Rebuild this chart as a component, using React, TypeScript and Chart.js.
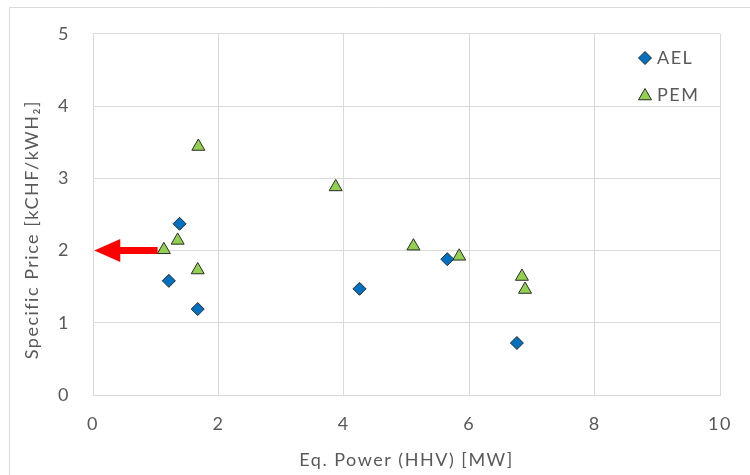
import React, { useEffect, useRef } from 'react';
import { Chart, registerables } from 'chart.js';

Chart.register(...registerables);

// ---- data ----
const seriesNames = ['AEL', 'PEM'];
const aelX = [1.38, 1.21, 1.67, 4.25, 5.65, 6.76];
const aelY = [2.37, 1.58, 1.19, 1.47, 1.88, 0.72];
const pemX = [1.68, 1.13, 1.35, 1.67, 3.87, 5.11, 5.84, 6.84, 6.89];
const pemY = [3.44, 2.01, 2.14, 1.73, 2.88, 2.06, 1.92, 1.64, 1.46];
const xTicks = [0, 2, 4, 6, 8, 10];
const yTicks = [0, 1, 2, 3, 4, 5];
const arrowFrom = [1.03, 2];
const arrowTo = [0.02, 2];
const xTitle = 'Eq. Power (HHV) [MW]';
const yTitle = 'Specific Price [kCHF/kWH\u2082]';

const FONT = 'Lato';
const TEXT = '#595959';
const GRID = '#d9d9d9';
const AEL_FILL = '#0070C0';
const PEM_FILL = '#92D050';
const MARK_BORDER = '#2b2b2b';
const SPACING = '1.5px';

const decorPlugin = {
  id: 'decor',
  beforeUpdate(chart: any) {
    chart.ctx.letterSpacing = SPACING;
  },
  beforeDraw(chart: any) {
    const ctx = chart.ctx;
    ctx.letterSpacing = SPACING;
    ctx.save();
    ctx.fillStyle = '#ffffff';
    ctx.fillRect(0, 0, chart.width, chart.height);
    ctx.strokeStyle = GRID;
    ctx.lineWidth = 1;
    ctx.beginPath();
    ctx.moveTo(9.5, chart.height);
    ctx.lineTo(9.5, 7.5);
    ctx.lineTo(chart.width, 7.5);
    ctx.stroke();
    ctx.restore();
  },
  beforeDatasetsDraw(chart: any) {
    const { ctx, scales } = chart;
    const x0 = scales.x.getPixelForValue(arrowFrom[0]);
    const x1 = scales.x.getPixelForValue(arrowTo[0]);
    const y = scales.y.getPixelForValue(arrowFrom[1]);
    const headLen = 26;
    const headHalf = 11.5;
    const shaftHalf = 3.5;
    ctx.save();
    ctx.fillStyle = '#ff0000';
    ctx.beginPath();
    ctx.moveTo(x0, y - shaftHalf);
    ctx.lineTo(x1 + headLen, y - shaftHalf);
    ctx.lineTo(x1 + headLen, y - headHalf);
    ctx.lineTo(x1, y);
    ctx.lineTo(x1 + headLen, y + headHalf);
    ctx.lineTo(x1 + headLen, y + shaftHalf);
    ctx.lineTo(x0, y + shaftHalf);
    ctx.closePath();
    ctx.fill();
    ctx.restore();
  },
  afterDraw(chart: any) {
    const ctx = chart.ctx;
    const mx = 645;
    const tx = 657;
    const rows = [58, 95];
    ctx.save();
    ctx.font = `18px ${FONT}`;
    ctx.textBaseline = 'middle';
    ctx.textAlign = 'left';
    // AEL diamond
    const r = 6.5;
    ctx.beginPath();
    ctx.moveTo(mx, rows[0] - r);
    ctx.lineTo(mx + r, rows[0]);
    ctx.lineTo(mx, rows[0] + r);
    ctx.lineTo(mx - r, rows[0]);
    ctx.closePath();
    ctx.fillStyle = AEL_FILL;
    ctx.fill();
    ctx.strokeStyle = MARK_BORDER;
    ctx.lineWidth = 1;
    ctx.stroke();
    ctx.fillStyle = TEXT;
    ctx.fillText(seriesNames[0], tx, rows[0]);
    // PEM triangle
    const tr = 7.5;
    const cy = rows[1] + 1;
    ctx.beginPath();
    ctx.moveTo(mx, cy - tr);
    ctx.lineTo(mx + tr * 0.866, cy + tr / 2);
    ctx.lineTo(mx - tr * 0.866, cy + tr / 2);
    ctx.closePath();
    ctx.fillStyle = PEM_FILL;
    ctx.fill();
    ctx.strokeStyle = MARK_BORDER;
    ctx.stroke();
    ctx.fillStyle = TEXT;
    ctx.fillText(seriesNames[1], tx, rows[1]);
    ctx.restore();
  },
};

export default function App() {
  const ref = useRef<HTMLCanvasElement | null>(null);

  useEffect(() => {
    if (!ref.current) return;
    const chart = new Chart(ref.current, {
      type: 'scatter',
      data: {
        datasets: [
          {
            label: seriesNames[0],
            data: aelX.map((x, i) => ({ x, y: aelY[i] })),
            pointStyle: 'rectRot',
            pointRadius: 6.5,
            pointHoverRadius: 6.5,
            backgroundColor: AEL_FILL,
            borderColor: MARK_BORDER,
            borderWidth: 1,
          },
          {
            label: seriesNames[1],
            data: pemX.map((x, i) => ({ x, y: pemY[i] })),
            pointStyle: 'triangle',
            pointRadius: 7.5,
            pointHoverRadius: 7.5,
            backgroundColor: PEM_FILL,
            borderColor: MARK_BORDER,
            borderWidth: 1,
          },
        ],
      },
      options: {
        animation: false,
        responsive: false,
        maintainAspectRatio: false,
        layout: { padding: { left: 0, top: 27, right: 27, bottom: 0 } },
        plugins: {
          legend: { display: false },
          tooltip: { enabled: false },
        },
        scales: {
          x: {
            type: 'linear',
            min: 0,
            max: 10,
            afterBuildTicks: (s: any) => {
              s.ticks = xTicks.map((v) => ({ value: v }));
            },
            afterFit: (s: any) => {
              s.height = 80;
            },
            grid: { color: GRID, lineWidth: 1, drawTicks: false },
            border: { color: GRID, width: 1 },
            ticks: {
              padding: 18,
              color: TEXT,
              font: { family: FONT, size: 18 },
            },
            title: {
              display: true,
              text: xTitle,
              color: TEXT,
              font: { family: FONT, size: 18 },
              padding: { top: 0, bottom: 4 },
            },
          },
          y: {
            type: 'linear',
            min: 0,
            max: 5,
            afterBuildTicks: (s: any) => {
              s.ticks = yTicks.map((v) => ({ value: v }));
            },
            afterFit: (s: any) => {
              s.width = 93;
            },
            grid: { color: GRID, lineWidth: 1, drawTicks: false },
            border: { color: GRID, width: 1 },
            ticks: {
              padding: 23,
              color: TEXT,
              font: { family: FONT, size: 18 },
            },
            title: {
              display: true,
              text: yTitle + '\u00a0\u00a0\u00a0\u00a0\u00a0',
              color: TEXT,
              font: { family: FONT, size: 18 },
              padding: { top: 21, bottom: 0 },
            },
          },
        },
      },
      plugins: [decorPlugin],
    });
    return () => chart.destroy();
  }, []);

  return (
    <div style={{ position: 'absolute', left: 0, top: 0, width: 750, height: 475, background: '#fff' }}>
      <canvas ref={ref} width={750} height={475} style={{ display: 'block', width: 750, height: 475 }} />
    </div>
  );
}
